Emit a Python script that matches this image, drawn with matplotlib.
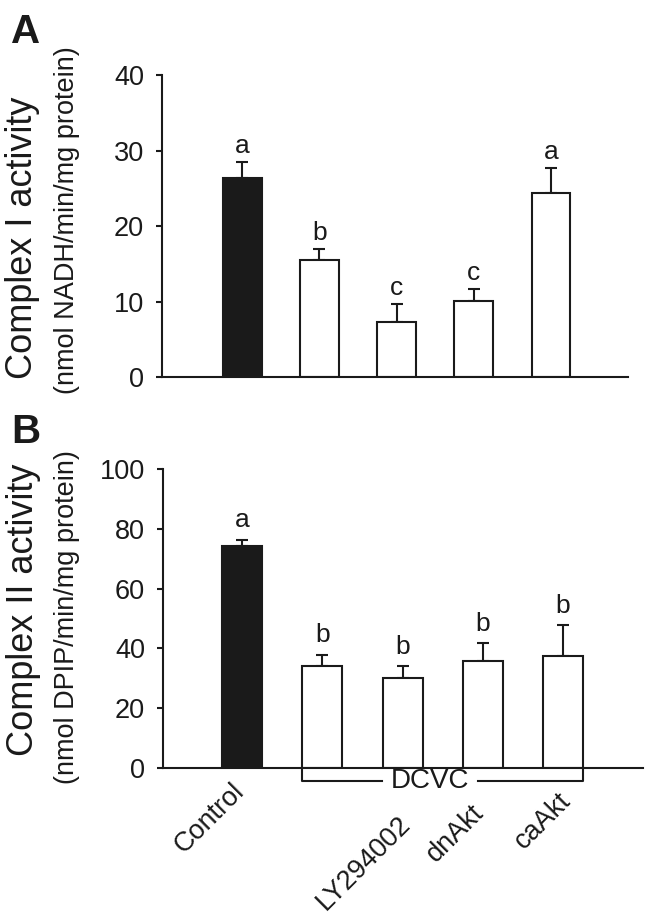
import numpy as np
import matplotlib
matplotlib.use('Agg')
import matplotlib.pyplot as plt
import matplotlib.transforms as mtransforms

# datos
grupos = ['Control', 'DCVC', 'LY294002', 'dnAkt', 'caAkt']
etiquetas_x = ['Control', '', 'LY294002', 'dnAkt', 'caAkt']

complejo1 = [26.4, 15.5, 7.3, 10.1, 24.4]
error1 = [2.1, 1.5, 2.4, 1.5, 3.3]
letras1 = ['a', 'b', 'c', 'c', 'a']

complejo2 = [74.2, 34.1, 30.1, 35.8, 37.5]
error2 = [2.1, 3.7, 4.0, 6.0, 10.3]
letras2 = ['a', 'b', 'b', 'b', 'b']

plt.rcParams['font.family'] = ['Liberation Sans', 'DejaVu Sans']
negro = '#1a1a1a'
plt.rcParams['text.color'] = negro
plt.rcParams['axes.edgecolor'] = negro
plt.rcParams['xtick.color'] = negro
plt.rcParams['ytick.color'] = negro

W, H = 651, 915
fig = plt.figure(figsize=(W / 100, H / 100), dpi=100)

def px(x0, y0, x1, y1):
    # caja en pixeles -> fracciones de figura
    return [x0 / W, 1 - y1 / H, (x1 - x0) / W, (y1 - y0) / H]

axA = fig.add_axes(px(162, 75, 628, 377))
axB = fig.add_axes(px(163, 469, 643, 768))


def barras(ax, valores, errores, letras, ymax, paso, xlim, sep):
    x = np.arange(len(valores))
    colores = [negro] + ['white'] * (len(valores) - 1)
    ax.bar(x, valores, width=0.5, color=colores, edgecolor=negro, linewidth=1.5, zorder=2)
    ax.errorbar(x, valores, yerr=[np.zeros(len(errores)), errores], fmt='none',
                ecolor=negro, elinewidth=1.5, capsize=4, capthick=1.5, zorder=1)
    for xi, v, e, l in zip(x, valores, errores, letras):
        ax.annotate(l, (xi, v + e), xytext=(0, sep), textcoords='offset points',
                    ha='center', va='baseline', fontsize=19)
    ax.set_ylim(0, ymax)
    ax.set_xlim(*xlim)
    ax.set_yticks(np.arange(0, ymax + 1, paso))
    ax.set_xticks([])
    ax.spines['top'].set_visible(False)
    ax.spines['right'].set_visible(False)
    ax.spines['left'].set_linewidth(1.5)
    ax.spines['bottom'].set_linewidth(1.5)
    ax.tick_params(axis='y', direction='out', length=4, width=1.5, pad=9, labelsize=19.5)


barras(axA, complejo1, error1, letras1, 40, 10, (-1.04, 5.0), 6.5)
barras(axB, complejo2, error2, letras2, 100, 20, (-0.99, 5.0), 9)

# titulos de eje y
fig.text(23 / W, 1 - 238 / H, 'Complex I activity', rotation=90, ha='center', va='center', fontsize=26)
fig.text(67 / W, 1 - 220 / H, '(nmol NADH/min/mg protein)', rotation=90, ha='center', va='center', fontsize=19.5)
fig.text(24 / W, 1 - 610 / H, 'Complex II activity', rotation=90, ha='center', va='center', fontsize=26)
fig.text(67 / W, 1 - 617 / H, '(nmol DPIP/min/mg protein)', rotation=90, ha='center', va='center', fontsize=19.5)

# letras de panel
fig.text(11 / W, 1 - 43 / H, 'A', fontsize=29, fontweight='bold', ha='left', va='baseline')
fig.text(11 / W, 1 - 443 / H, 'B', fontsize=29, fontweight='bold', ha='left', va='baseline')

# corchete DCVC (con hueco para el texto)
trans = mtransforms.blended_transform_factory(axB.transData, axB.transAxes)
axB.plot([0.75, 0.75, 1.74], [0, -0.045, -0.045], color=negro, lw=1.5,
         transform=trans, clip_on=False)
axB.plot([2.94, 4.25, 4.25], [-0.045, -0.045, 0], color=negro, lw=1.5,
         transform=trans, clip_on=False)
axB.text(2.34, -0.045, 'DCVC', transform=trans, ha='center', va='center', fontsize=20)

# etiquetas giradas
pos_y = [-0.035, 0, -0.145, -0.105, -0.065]
pos_x = [-0.14, 1.0, 1.94, 2.85, 3.94]
for xi, yi, t in zip(pos_x, pos_y, etiquetas_x):
    if t:
        axB.text(xi, yi, t, transform=trans, rotation=45, rotation_mode='anchor',
                 ha='right', va='top', fontsize=19.5)

fig.savefig('out.png', dpi=100)
